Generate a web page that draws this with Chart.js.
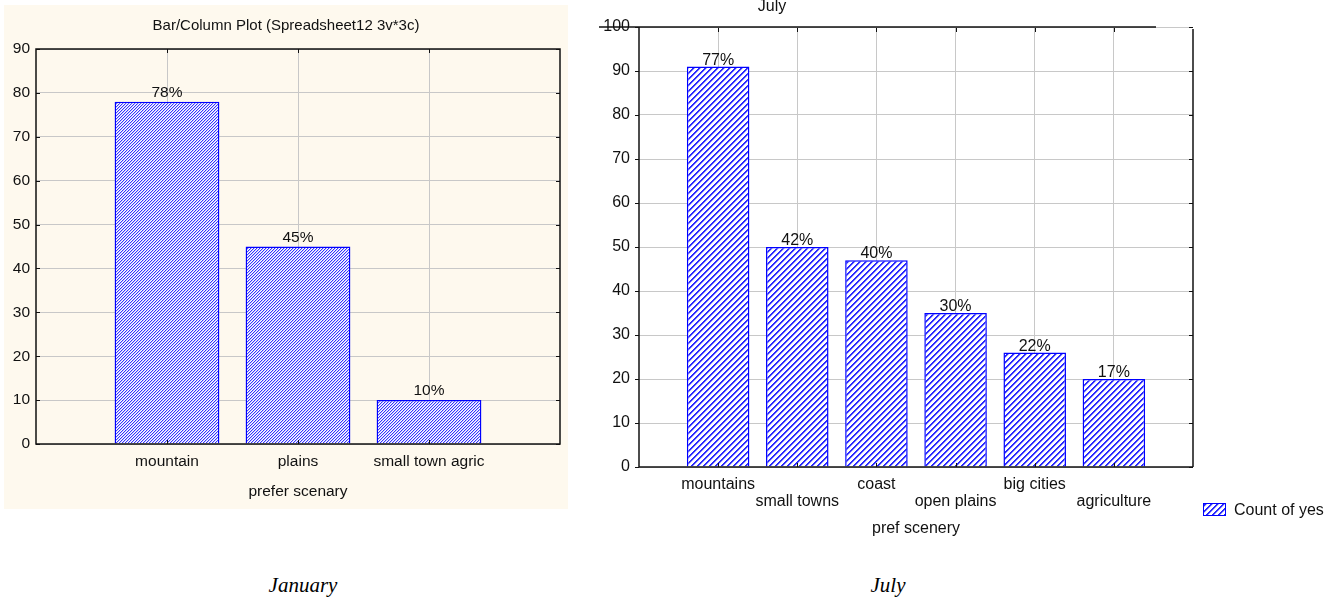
<!DOCTYPE html>
<html>
<head>
<meta charset="utf-8">
<script src="https://cdn.jsdelivr.net/npm/chart.js@4.4.0/dist/chart.umd.min.js"></script>
<style>
  html, body { margin: 0; padding: 0; background: #ffffff; width: 1339px; height: 603px; overflow: hidden; }
  #janWrap { position: absolute; left: 4px; top: 5px; width: 564px; height: 504px; background: #fef9ee; }
  #julWrap { position: absolute; left: 580px; top: 0; width: 759px; height: 560px; }
  .caption { position: absolute; top: 572px; width: 200px; margin-left: -100px; text-align: center;
             font-family: 'Liberation Serif', 'Times New Roman', serif; font-style: italic;
             font-size: 21px; line-height: 26px; color: #000; }
</style>
</head>
<body>
<div id="janWrap"><canvas id="janChart" width="564" height="504"></canvas></div>
<div id="julWrap"><canvas id="julChart" width="759" height="560"></canvas></div>
<div class="caption" style="left:303px">January</div>
<div class="caption" style="left:888px">July</div>

<script>
// ---- January survey ----
const janCategories = ['mountain', 'plains', 'small town agric'];
const janCounts = [78, 45, 10];
const janPercents = ['78%', '45%', '10%'];
const janTitle = 'Bar/Column Plot (Spreadsheet12 3v*3c)';
const janAxisTitle = 'prefer scenary';
const janYMax = 90;

// ---- July survey ----
const julCategories = ['mountains', 'small towns', 'coast', 'open plains', 'big cities', 'agriculture'];
const julCounts = [91, 50, 47, 35, 26, 20];
const julPercents = ['77%', '42%', '40%', '30%', '22%', '17%'];
const julTitle = 'July';
const julAxisTitle = 'pref scenery';
const julSeriesName = 'Count of yes';
const julYMax = 100;

const FONT = "'Liberation Sans', Arial, Helvetica, sans-serif";
const GRID = '#c8c8c8';
const INK = '#111111';

// fine diagonal hatch fill
function fineHatch() {
  const n = 3;
  const c = document.createElement('canvas');
  c.width = n; c.height = n;
  const g = c.getContext('2d');
  g.fillStyle = '#ffffff'; g.fillRect(0, 0, n, n);
  for (let y = 0; y < n; y++) for (let x = 0; x < n; x++) {
    const k = (x + y) % n;
    if (k === 0) { g.fillStyle = '#3434ff'; g.fillRect(x, y, 1, 1); }
    if (k === 1) { g.fillStyle = '#c4c4ff'; g.fillRect(x, y, 1, 1); }
  }
  return g.createPattern(c, 'repeat');
}

// wide diagonal stripes ////
function stripeHatch() {
  const n = 6;
  const c = document.createElement('canvas');
  c.width = n; c.height = n;
  const g = c.getContext('2d');
  g.fillStyle = '#ffffff'; g.fillRect(0, 0, n, n);
  for (let y = 0; y < n; y++) for (let x = 0; x < n; x++) {
    const k = (x + y) % n;
    if (k === 0 || k === 1) { g.fillStyle = '#2a2aff'; g.fillRect(x, y, 1, 1); }
    else if (k === 2) { g.fillStyle = '#b4b4ff'; g.fillRect(x, y, 1, 1); }
  }
  return g.createPattern(c, 'repeat');
}

// value labels above bars
function barLabels(texts, gap, size) {
  return {
    id: 'barLabels',
    afterDatasetsDraw(chart) {
      const ctx = chart.ctx;
      const meta = chart.getDatasetMeta(0);
      ctx.save();
      ctx.font = size + 'px ' + FONT;
      ctx.fillStyle = INK;
      ctx.textAlign = 'center';
      ctx.textBaseline = 'alphabetic';
      meta.data.forEach((bar, i) => ctx.fillText(texts[i], bar.x, bar.y - gap));
      ctx.restore();
    }
  };
}

function line(ctx, x1, y1, x2, y2) {
  ctx.beginPath(); ctx.moveTo(x1, y1); ctx.lineTo(x2, y2); ctx.stroke();
}

// ---------- January chart ----------
const janFrame = {
  id: 'janFrame',
  afterDraw(chart) {
    const { ctx, chartArea: a, scales } = chart;
    ctx.save();
    ctx.strokeStyle = INK;
    ctx.lineWidth = 1.5;
    ctx.strokeRect(a.left, a.top, a.right - a.left, a.bottom - a.top);
    ctx.lineWidth = 1;
    for (let v = 0; v <= janYMax; v += 10) {
      const y = Math.round(scales.y.getPixelForValue(v)) + 0.5;
      line(ctx, a.left, y, a.left + 4, y);
      line(ctx, a.right - 4, y, a.right, y);
    }
    janCategories.forEach((_, i) => {
      const x = Math.round(scales.x.getPixelForValue(i + 1)) + 0.5;
      line(ctx, x, a.top, x, a.top + 4);
      line(ctx, x, a.bottom - 4, x, a.bottom);
    });
    ctx.font = '15px ' + FONT;
    ctx.fillStyle = INK;
    ctx.textAlign = 'center';
    ctx.textBaseline = 'middle';
    ctx.fillText(janTitle, chart.width / 2, 21);
    ctx.restore();
  }
};

new Chart(document.getElementById('janChart'), {
  type: 'bar',
  data: {
    datasets: [{
      label: 'prefer scenary',
      data: janCounts.map((v, i) => ({ x: i + 1, y: v })),
      backgroundColor: fineHatch(),
      borderColor: '#0000ff',
      borderWidth: 1.5,
      barPercentage: 0.8,
      categoryPercentage: 1.0
    }]
  },
  options: {
    responsive: false,
    animation: false,
    layout: { padding: { left: 0, right: 8, top: 44, bottom: 0 } },
    plugins: { legend: { display: false }, tooltip: { enabled: false }, title: { display: false } },
    scales: {
      x: {
        type: 'linear', min: 0, max: janCategories.length + 1, offset: false,
        border: { display: false },
        grid: {
          offset: false, drawTicks: false,
          color: c => (c.tick && c.tick.value >= 1 && c.tick.value <= janCategories.length) ? GRID : 'rgba(0,0,0,0)'
        },
        ticks: {
          stepSize: 1, autoSkip: false, maxRotation: 0, padding: 8,
          color: INK, font: { family: FONT, size: 15.5 },
          callback: v => (Number.isInteger(v) && v >= 1 && v <= janCategories.length) ? janCategories[v - 1] : ''
        },
        title: { display: true, text: janAxisTitle, color: INK, font: { family: FONT, size: 15.5 }, padding: { top: 0, bottom: 8 } },
        afterFit: s => { s.height = 65; }
      },
      y: {
        min: 0, max: janYMax,
        border: { display: false },
        grid: { color: GRID, drawTicks: false },
        ticks: { stepSize: 10, padding: 6, color: INK, font: { family: FONT, size: 15.5 } },
        afterFit: s => { s.width = 32; }
      }
    }
  },
  plugins: [barLabels(janPercents, 5, 15.5), janFrame]
});

// ---------- July chart ----------
const julSwatch = stripeHatch();
const julFrame = {
  id: 'julFrame',
  afterDraw(chart) {
    const { ctx, chartArea: a, scales } = chart;
    ctx.save();
    ctx.strokeStyle = INK;
    ctx.lineWidth = 1.5;
    line(ctx, a.left - 40, a.top, a.right - 37, a.top);   // top rule
    line(ctx, a.left, a.top, a.left, a.bottom);
    line(ctx, a.left, a.bottom, a.right, a.bottom);
    line(ctx, a.right, a.top + 2, a.right, a.bottom);
    ctx.lineWidth = 1;
    for (let v = 0; v <= julYMax; v += 10) {
      const y = Math.round(scales.y.getPixelForValue(v)) + 0.5;
      line(ctx, a.left - 4, y, a.left, y);
      line(ctx, a.right - 4, y, a.right, y);
    }
    julCategories.forEach((_, i) => {
      const x = Math.round(scales.x.getPixelForValue(i + 1)) + 0.5;
      line(ctx, x, a.top + 1, x, a.top + 5);
      line(ctx, x, a.bottom - 4, x, a.bottom);
    });
    ctx.fillStyle = INK;
    ctx.textBaseline = 'middle';
    ctx.font = '16px ' + FONT;
    ctx.textAlign = 'center';
    ctx.fillText(julTitle, 192, 7);
    // legend entry
    const lx = a.right + 10, ly = 503;
    ctx.fillStyle = julSwatch;
    ctx.fillRect(lx, ly, 23, 13);
    ctx.strokeStyle = '#0000ff';
    ctx.lineWidth = 1;
    ctx.strokeRect(lx + 0.5, ly + 0.5, 22, 12);
    ctx.fillStyle = INK;
    ctx.textAlign = 'left';
    ctx.fillText(chart.data.datasets[0].label, lx + 31, ly + 8);
    ctx.restore();
  }
};

new Chart(document.getElementById('julChart'), {
  type: 'bar',
  data: {
    datasets: [{
      label: julSeriesName,
      data: julCounts.map((v, i) => ({ x: i + 1, y: v })),
      backgroundColor: julSwatch,
      borderColor: '#0000ff',
      borderWidth: 1.5,
      barPercentage: 0.79,
      categoryPercentage: 1.0
    }]
  },
  options: {
    responsive: false,
    animation: false,
    layout: { padding: { left: 0, right: 146, top: 27, bottom: 0 } },
    plugins: { legend: { display: false }, tooltip: { enabled: false }, title: { display: false } },
    scales: {
      x: {
        type: 'linear', min: 0, max: julCategories.length + 1, offset: false,
        border: { display: false },
        grid: {
          offset: false, drawTicks: false,
          color: c => (c.tick && c.tick.value >= 1 && c.tick.value <= julCategories.length) ? GRID : 'rgba(0,0,0,0)'
        },
        ticks: {
          stepSize: 1, autoSkip: false, maxRotation: 0, padding: 9.5,
          color: INK, font: { family: FONT, size: 16, lineHeight: '17px' },
          callback: v => {
            if (!(Number.isInteger(v) && v >= 1 && v <= julCategories.length)) return '';
            const name = julCategories[v - 1];
            return (v % 2 === 1) ? [name] : ['', name];
          }
        },
        title: { display: true, text: julAxisTitle, color: INK, font: { family: FONT, size: 16 }, padding: { top: 0, bottom: 22 } },
        afterFit: s => { s.height = 93; }
      },
      y: {
        min: 0, max: julYMax,
        border: { display: false },
        grid: { color: GRID, drawTicks: false },
        ticks: { stepSize: 10, padding: 9, color: INK, font: { family: FONT, size: 16 } },
        afterFit: s => { s.width = 59; }
      }
    }
  },
  plugins: [barLabels(julPercents, 2, 16), julFrame]
});
</script>
</body>
</html>
